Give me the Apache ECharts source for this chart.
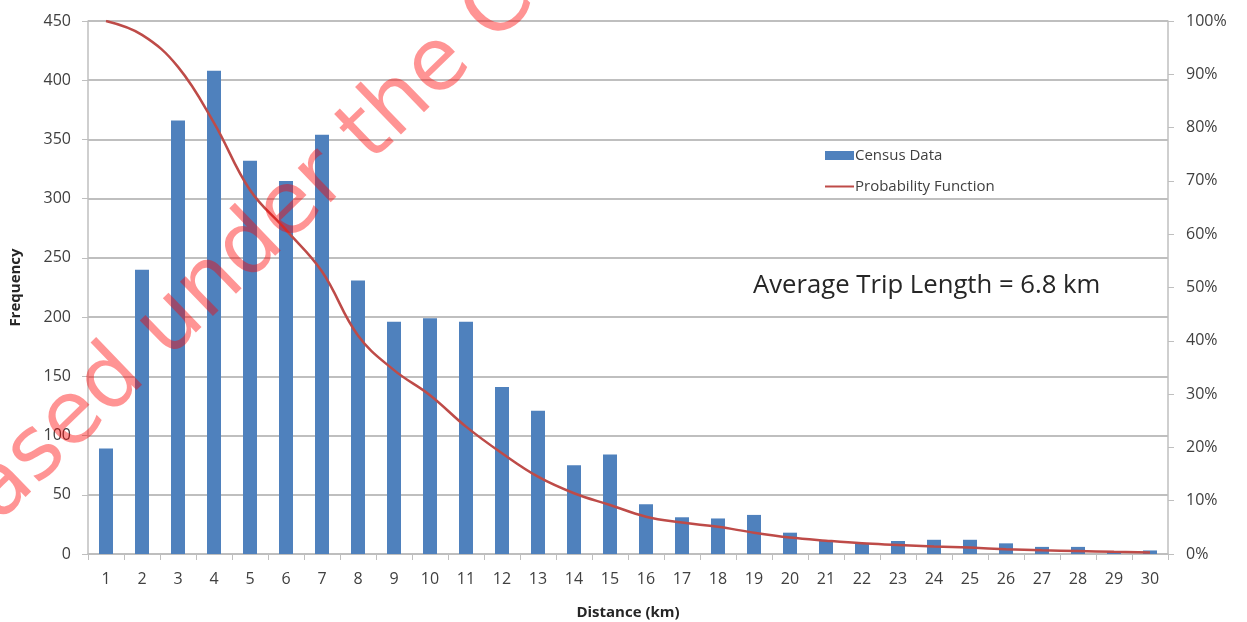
<!DOCTYPE html>
<html>
<head>
<meta charset="utf-8">
<script src="https://cdn.jsdelivr.net/npm/echarts@6/dist/echarts.min.js"></script>
<style>
  html, body { margin: 0; padding: 0; background: #ffffff; }
  #chart { width: 1247px; height: 622px; }
</style>
</head>
<body>
<div id="chart"></div>
<script>
// Trip distance categories (km)
const distances = ['1','2','3','4','5','6','7','8','9','10','11','12','13','14','15','16','17','18','19','20','21','22','23','24','25','26','27','28','29','30'];
// Observed trip counts per distance band
const censusData = [89, 240, 366, 408, 332, 315, 354, 231, 196, 199, 196, 141, 121, 75, 84, 42, 31, 30, 33, 18, 11, 9, 11, 12, 12, 9, 6, 6, 2, 3];
// Fitted probability function (share of trips at or beyond each distance)
const probability = [1.00, 0.974, 0.914, 0.809, 0.683, 0.608, 0.53, 0.41, 0.345, 0.298, 0.239, 0.189, 0.145, 0.114, 0.092, 0.070, 0.059, 0.051, 0.040, 0.031, 0.025, 0.020, 0.017, 0.014, 0.012, 0.009, 0.007, 0.0055, 0.004, 0.003];
// Left axis ticks
const freqMin = 0, freqMax = 450, freqStep = 50;

const chart = echarts.init(document.getElementById('chart'), null, { renderer: 'canvas' });

const axisGray = '#bfbfbf';
const labelColor = '#404040';
const font = 'Open Sans';

chart.setOption({
  animation: false,
  backgroundColor: '#ffffff',
  textStyle: { fontFamily: font },
  grid: { left: 88, right: 79, top: 21, bottom: 68, outerBoundsMode: 'none', containLabel: false },
  legend: {
    orient: 'vertical',
    left: 819,
    top: 143,
    itemWidth: 29,
    itemHeight: 9,
    itemGap: 16,
    textStyle: { fontSize: 15, color: labelColor, fontFamily: font, padding: [0, 0, 0, -4] },
    data: [
      { name: 'Census Data', icon: 'rect' },
      { name: 'Probability Function', itemStyle: { opacity: 0 } }
    ]
  },
  xAxis: {
    type: 'category',
    data: distances,
    name: 'Distance (km)',
    nameLocation: 'middle',
    nameGap: 51,
    nameTextStyle: { fontSize: 15, fontWeight: 'bold', color: '#262626', fontFamily: font },
    axisLine: { lineStyle: { color: axisGray, width: 1.5 } },
    axisTick: { show: true, length: 6, lineStyle: { color: axisGray } },
    axisLabel: { fontSize: 16, color: labelColor, margin: 17 }
  },
  yAxis: [
    {
      type: 'value',
      min: freqMin,
      max: freqMax,
      interval: freqStep,
      name: 'Frequency',
      nameLocation: 'middle',
      nameGap: 65,
      nameRotate: 90,
      nameTextStyle: { fontSize: 15, fontWeight: 'bold', color: '#262626', fontFamily: font },
      axisLine: { show: true, lineStyle: { color: axisGray, width: 1.5 } },
      axisTick: { show: true, length: 6, lineStyle: { color: axisGray } },
      axisLabel: { fontSize: 16, color: labelColor, margin: 17 },
      splitLine: { show: true, lineStyle: { color: axisGray, width: 2 } }
    },
    {
      type: 'value',
      min: 0,
      max: 1,
      interval: 0.1,
      position: 'right',
      axisLine: { show: true, lineStyle: { color: axisGray, width: 1.5 } },
      axisTick: { show: true, length: 6, lineStyle: { color: axisGray } },
      axisLabel: {
        fontSize: 16, color: labelColor, margin: 18,
        formatter: v => Math.round(v * 100) + '%'
      },
      splitLine: { show: false }
    }
  ],
  series: [
    {
      name: 'Census Data',
      type: 'bar',
      data: censusData,
      barWidth: 14,
      itemStyle: { color: '#4f81bd' }
    },
    {
      name: 'Probability Function',
      type: 'line',
      yAxisIndex: 1,
      data: probability,
      smooth: 0.4,
      symbol: 'none',
      lineStyle: { color: '#be4b48', width: 2.5 },
      itemStyle: { color: '#be4b48' }
    }
  ],
  graphic: [
    {
      type: 'text',
      left: 753,
      top: 273,
      z: 50,
      style: {
        text: 'Average Trip Length = 6.8 km',
        fontSize: 25.7,
        fontFamily: font,
        fill: '#262626'
      }
    },
    {
      type: 'text',
      x: 461,
      y: 45,
      rotation: 44 * Math.PI / 180,
      z: 100,
      style: {
        text: 'Released under the Creative Commons',
        fontSize: 87,
        fontFamily: 'DejaVu Sans',
        fill: 'rgba(255, 0, 0, 0.42)',
        align: 'center',
        verticalAlign: 'middle'
      }
    }
  ]
});
</script>
</body>
</html>
